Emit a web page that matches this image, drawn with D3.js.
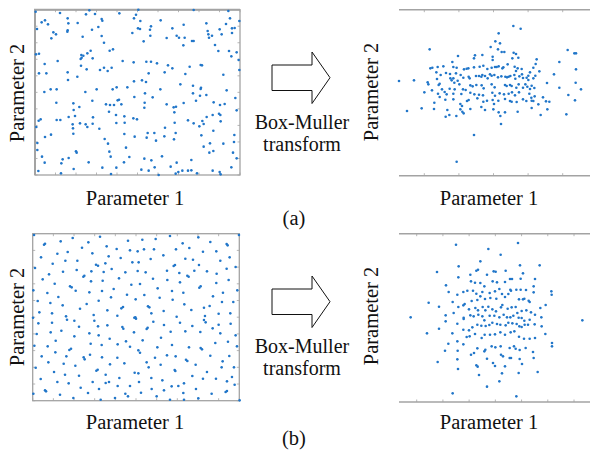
<!DOCTYPE html>
<html>
<head>
<meta charset="utf-8">
<script src="https://cdn.jsdelivr.net/npm/d3@7"></script>
<style>
  html, body { margin: 0; padding: 0; background: #fff; }
  svg { display: block; }
</style>
</head>
<body>
<svg id="fig" width="596" height="454"></svg>
<script>
// Sample sets, recorded on each panel's own grid (x: Parameter 1, y: Parameter 2, rows counted downward).
const uniformA = [[17,20],[90,24],[178,16],[195,27],[168,28],[215,42],[217,47],[268,25],[325,14],[318,29],[312,40],[491,15],[595,18],[600,40],[628,48],[35,52],[45,46],[54,58],[113,40],[115,55],[143,54],[186,74],[205,66],[113,76],[112,80],[21,72],[70,82],[78,88],[64,100],[158,95],[215,93],[222,113],[331,48],[330,72],[324,70],[363,64],[360,74],[307,84],[392,46],[427,70],[461,59],[341,109],[361,92],[410,99],[440,92],[447,98],[464,98],[486,108],[491,108],[460,121],[529,55],[533,78],[535,88],[537,98],[546,92],[569,73],[575,88],[588,57],[606,70],[606,84],[614,69],[555,120],[597,138],[604,154],[620,142],[626,165],[628,195],[565,138],
[18,148],[27,146],[44,177],[27,205],[49,205],[83,168],[154,150],[160,152],[155,158],[152,162],[172,145],[182,137],[188,160],[239,137],[249,133],[153,182],[170,193],[210,195],[222,188],[233,198],[245,188],[278,168],[311,172],[349,170],[363,170],[381,175],[414,181],[427,190],[404,202],[466,207],[479,185],[512,180],[516,181],[580,209],[113,202],[114,225],[142,215],[336,226],[348,231],[312,229],[356,205],[451,238],[489,242],[513,248],[512,252],[43,261],[62,253],[80,253],[200,253],[248,253],[260,247],[292,247],[166,261],[313,276],[345,265],[368,277],[391,253],[489,265],[510,272],[529,270],[590,256],[616,279],[498,287],[551,292],[570,300],[584,297],[620,316],
[79,293],[130,295],[148,306],[187,287],[228,298],[240,300],[252,300],[263,286],[267,284],[274,298],[131,315],[116,336],[135,333],[26,347],[32,343],[80,345],[91,345],[128,358],[150,355],[167,358],[129,370],[189,337],[172,366],[188,356],[237,320],[258,330],[283,334],[259,354],[284,353],[310,340],[321,343],[344,293],[343,308],[410,298],[431,307],[438,305],[433,322],[461,294],[474,346],[517,348],[521,357],[491,355],[434,353],[508,364],[530,336],[548,330],[567,326],[571,330],[572,349],[19,366],[208,371],[405,368],[130,386],[45,396],[63,389],[22,414],[22,435],[283,387],[314,395],[353,384],[373,384],[378,407],[350,398],[403,394],[432,403],[437,384],[514,391],[550,377],[613,390],[612,411],[580,416],[540,415],[521,425],[550,438],[538,443],[224,402],[234,416],[288,428],[238,440],[242,455],[138,439],[140,443],[36,455],[44,473],[98,463],[94,475],[116,459],[176,472],[282,472],[298,456],[343,461],[364,466],[396,454],[422,485],[374,487],[356,497],[440,473],[484,465],[548,497],[569,501],[572,508],[604,487],[25,498],[93,505],[131,492],[217,488],[259,488],[243,507],[334,494],[386,510],[437,506],[445,501],[457,497],[474,497],[484,496],[620,460],[609,443],[501,505]];

const gaussianA = [[355,63],[377,71],[311,85],[104,133],[301,109],[315,115],[287,126],[309,133],[320,141],[328,141],[189,153],[240,151],[237,160],[262,150],[293,155],[293,165],[356,143],[363,147],[370,158],[352,160],[425,163],[422,177],[518,135],[538,145],[543,145],[493,171],[172,171],[112,188],[106,190],[128,186],[145,184],[175,186],[185,188],[207,193],[215,191],[220,190],[237,187],[254,185],[265,182],[277,192],[290,188],[300,186],[305,186],[311,184],[322,190],[325,187],[338,178],[359,185],[368,190],[380,192],[363,198],[405,202],[415,188],[433,199],[543,193],[124,202],[153,204],[165,207],[183,205],[197,210],[137,210],[98,232],[100,238],[131,240],[134,236],[126,222],[57,226],[12,228],[166,220],[170,226],[175,220],[178,233],[188,227],[193,238],[205,218],[221,215],[224,220],[243,213],[252,213],[259,215],[262,210],[270,213],[278,220],[285,208],[290,212],[298,210],[309,217],[319,214],[331,215],[336,217],[341,215],[346,213],[358,210],[361,221],[373,214],[381,208],[384,219],[395,218],[400,212],[400,225],[415,220],[421,212],[456,234],[477,208],[493,248],[542,233],[558,253],[141,253],[111,256],[88,262],[149,261],[164,251],[179,253],[204,253],[212,255],[226,241],[233,244],[244,240],[260,241],[266,250],[290,238],[299,247],[330,240],[335,243],[345,240],[350,243],[364,248],[371,238],[384,248],[391,238],[397,245],[405,252],[410,242],[418,249],[129,266],[134,276],[155,268],[175,266],[199,267],[226,263],[238,268],[252,269],[264,271],[292,263],[300,272],[314,265],[327,268],[341,266],[351,262],[360,271],[372,262],[403,266],[409,278],[419,274],[444,277],[520,270],[118,293],[80,310],[36,318],[117,312],[151,284],[175,283],[196,297],[201,303],[216,288],[221,285],[247,280],[265,290],[276,287],[293,285],[297,297],[310,287],[330,282],[345,288],[350,290],[365,291],[384,283],[394,288],[410,287],[415,288],[430,298],[453,289],[463,290],[540,286],[157,315],[152,335],[163,330],[184,333],[196,313],[202,320],[206,325],[226,312],[259,306],[270,315],[295,313],[311,322],[316,333],[330,322],[318,357],[368,320],[410,309],[437,330],[457,313],[514,328],[237,390],[185,470]];

const uniformB = [[12,21],[627,21],[92,40],[128,30],[175,43],[210,26],[230,55],[260,63],[294,38],[337,35],[377,33],[420,24],[458,46],[505,28],[541,42],[590,48],[593,52],[42,50],[45,47],
[33,88],[82,77],[113,72],[156,59],[187,76],[236,85],[272,90],[300,67],[323,70],[342,64],[372,64],[400,82],[438,64],[478,60],[519,71],[559,70],[599,88],[617,117],
[68,107],[106,98],[142,98],[198,110],[204,113],[226,106],[307,103],[326,103],[362,93],[431,114],[435,111],[466,92],[489,95],[507,111],[571,98],[15,120],
[57,139],[99,131],[140,126],[160,146],[163,143],[184,130],[221,132],[245,123],[286,133],[323,129],[347,133],[411,128],[448,135],[472,143],[476,146],[493,128],[531,130],[560,137],[590,122],
[38,154],[74,167],[120,175],[125,178],[183,160],[218,158],[267,151],[304,170],[330,168],[369,152],[412,156],[450,163],[508,179],[512,175],[559,165],[596,156],
[10,187],[52,195],[85,207],[137,188],[178,193],[216,189],[251,183],[291,200],[343,201],[383,181],[426,189],[460,194],[549,205],[579,194],[622,187],
[23,219],[61,225],[98,232],[150,242],[170,228],[206,218],[243,208],[274,241],[279,237],[317,214],[354,235],[358,238],[389,209],[428,215],[463,229],[484,246],[522,239],[539,234],[576,222],[610,222],
[28,253],[66,256],[108,265],[111,275],[191,261],[193,278],[232,247],[262,263],[313,269],[316,268],[318,272],[364,256],[401,249],[440,266],[525,264],[522,276],[566,257],[601,256],[9,269],
[25,286],[66,284],[94,308],[133,278],[147,296],[204,295],[232,292],[277,297],[280,302],[312,313],[350,303],[353,299],[370,281],[402,291],[450,284],[487,294],[527,283],[566,290],[602,287],
[20,318],[62,313],[77,338],[133,325],[178,316],[206,322],[239,332],[288,340],[338,337],[393,329],[422,311],[466,310],[511,312],[548,301],[571,316],[617,322],
[13,353],[53,355],[76,373],[118,366],[123,362],[182,347],[215,351],[263,349],[300,356],[325,367],[382,358],[426,351],[477,358],[512,360],[516,364],[556,345],[594,341],[621,355],
[35,385],[109,385],[164,394],[180,380],[216,388],[262,389],[283,406],[330,374],[350,403],[375,389],[411,382],[437,385],[468,395],[472,399],[497,410],[541,383],[578,400],[598,384],
[17,419],[55,403],[101,407],[136,413],[161,388],[199,428],[203,425],[240,409],[314,434],[325,436],[356,418],[392,410],[434,426],[436,429],[531,432],[575,418],[612,418],
[32,453],[72,432],[105,440],[147,443],[188,462],[227,440],[237,462],[268,450],[300,474],[327,462],[364,450],[397,457],[425,475],[462,466],[487,444],[519,452],[558,452],[591,460],[606,447],
[45,487],[48,490],[82,462],[116,466],[152,479],[174,495],[207,483],[227,465],[263,474],[286,497],[333,494],[365,483],[402,487],[445,474],[460,495],[498,483],[545,497],[587,492],[591,489],[614,470],
[10,497],[90,500],[130,510],[212,515],[255,510],[294,505],[380,505],[420,515],[462,515],[505,511],[629,517]];

const gaussianB = [[183,50],[369,45],[280,63],[317,80],[256,100],[126,132],[191,115],[375,112],[434,112],
[249,125],[244,128],[296,130],[302,131],[332,128],[190,148],[226,140],[276,140],[384,136],
[153,172],[161,192],[228,160],[240,164],[256,165],[268,175],[293,160],[306,163],[330,162],[345,153],[351,153],[377,152],[420,153],[416,175],
[187,200],[205,192],[217,188],[234,188],[244,197],[262,192],[284,195],[300,190],[313,183],[321,198],[346,185],[348,188],[364,185],[377,185],[393,186],[469,190],[470,200],[416,193],
[101,224],[132,236],[173,222],[190,237],[205,232],[209,228],[230,219],[247,216],[256,205],[270,213],[286,210],[304,212],[330,207],[340,198],[372,214],[384,214],[388,212],[401,218],[404,222],[452,231],[436,240],
[152,262],[176,255],[206,269],[206,273],[222,244],[241,240],[249,247],[263,237],[271,247],[280,236],[292,244],[303,250],[318,238],[322,231],[338,242],[350,238],[362,237],[380,249],[394,247],[408,253],[420,260],[367,255],[355,263],
[47,268],[152,280],[187,287],[226,262],[236,265],[250,260],[262,265],[268,277],[284,263],[298,263],[313,268],[326,260],[336,268],[346,268],[371,269],[380,270],[388,278],[404,275],[439,268],[562,277],
[96,316],[132,302],[172,316],[205,305],[222,307],[232,298],[247,290],[259,293],[272,294],[283,291],[292,284],[306,288],[316,290],[332,292],[340,284],[352,286],[365,288],[373,295],[380,297],[389,290],[399,290],[419,289],[440,295],[451,318],
[160,347],[187,340],[205,349],[215,327],[224,325],[240,318],[260,330],[269,320],[285,320],[300,319],[316,313],[330,320],[347,313],[358,310],[372,326],[387,332],[404,332],[420,330],[471,345],[471,355],
[150,368],[188,368],[228,380],[237,375],[247,361],[268,370],[271,365],[290,355],[301,358],[317,355],[344,360],[357,355],[362,362],[374,366],[392,360],[414,372],
[128,402],[187,394],[244,412],[248,416],[276,392],[294,405],[300,414],[318,380],[324,385],[330,415],[344,390],[348,390],[374,393],[381,408],[416,390],[428,432],
[189,423],[252,441],[321,436],[371,435],[313,460],[276,476],[173,496],[364,505]];

// Tick values along the plot edges
const uniformTicks = d3.range(0, 1.0001, 0.1);
const gaussTicksA = [-2, -1, 0, 1, 2];
const gaussTicksB = [-3, -2, -1, 0, 1, 2, 3];

const rowLabels = ["(a)", "(b)"];
const axisLabelX = "Parameter 1";
const axisLabelY = "Parameter 2";
const arrowText = ["Box-Muller", "transform"];

const serif = "'Liberation Serif','Times New Roman',serif";
const dotColor = "#2176c9";
const frameColor = "#a3a3a3";

const svg = d3.select("#fig");
svg.append("rect").attr("width", 596).attr("height", 454).attr("fill", "#fff");

// Panel layout: grid extents of each sample set and the box they fill
const rows = [
  {
    dy: 0, label: rowLabels[0],
    left:  { pts: uniformA,  gx: [15, 630], gy: [14, 510], px: [35, 240],  py: [9.7, 175] },
    right: { pts: gaussianA, gx: [0, 585],  gy: [14, 512], px: [395, 590], py: [9.7, 175.7],
             ticks: gaussTicksA, tickRange: [424.3, 562.7], line: [399, 590] }
  },
  {
    dy: 224, label: rowLabels[1],
    left:  { pts: uniformB,  gx: [8, 628],  gy: [17, 518], px: [32.7, 239.3], py: [233.7, 400.7] },
    right: { pts: gaussianB, gx: [0, 585],  gy: [17, 522], px: [395, 590],    py: [233.7, 402],
             ticks: gaussTicksB, tickRange: [416.7, 574], line: [399, 590] }
  }
];

function drawDots(g, p) {
  const x = d3.scaleLinear().domain(p.gx).range(p.px);
  const y = d3.scaleLinear().domain(p.gy).range(p.py);
  g.selectAll("circle.pt").data(p.pts).join("circle")
    .attr("class", "pt")
    .attr("cx", d => x(d[0]))
    .attr("cy", d => y(d[1]))
    .attr("r", 1.3)
    .attr("fill", dotColor);
}

rows.forEach((row, i) => {
  const g = svg.append("g");

  // Uniform samples: boxed axes with inward ticks at every 0.1
  const L = row.left;
  const lg = g.append("g");
  const tx = d3.scaleLinear().domain([0, 1]).range(L.px);
  const ty = d3.scaleLinear().domain([0, 1]).range([L.py[1], L.py[0]]);
  lg.append("rect")
    .attr("x", L.px[0]).attr("y", L.py[0])
    .attr("width", L.px[1] - L.px[0]).attr("height", L.py[1] - L.py[0])
    .attr("fill", "#fff").attr("stroke", frameColor).attr("stroke-width", 1.3);
  uniformTicks.forEach(t => {
    lg.append("line").attr("x1", tx(t)).attr("x2", tx(t)).attr("y1", L.py[0]).attr("y2", L.py[0] + 2.5)
      .attr("stroke", frameColor).attr("stroke-width", 0.8);
    lg.append("line").attr("x1", tx(t)).attr("x2", tx(t)).attr("y1", L.py[1]).attr("y2", L.py[1] - 2.5)
      .attr("stroke", frameColor).attr("stroke-width", 0.8);
    lg.append("line").attr("y1", ty(t)).attr("y2", ty(t)).attr("x1", L.px[0]).attr("x2", L.px[0] + 2.5)
      .attr("stroke", frameColor).attr("stroke-width", 0.8);
    lg.append("line").attr("y1", ty(t)).attr("y2", ty(t)).attr("x1", L.px[1]).attr("x2", L.px[1] - 2.5)
      .attr("stroke", frameColor).attr("stroke-width", 0.8);
  });
  if (i === 0) {
    lg.append("path")
      .attr("d", `M${L.px[0]},${L.py[1]}V${L.py[0]}H${L.px[1]}`)
      .attr("fill", "none").attr("stroke", frameColor).attr("stroke-width", 2);
  }
  drawDots(lg, L);

  // Gaussian samples: horizontal rules top and bottom with ticks
  const R = row.right;
  const rg = g.append("g");
  const gx = d3.scaleLinear().domain([R.ticks[0], R.ticks[R.ticks.length - 1]]).range(R.tickRange);
  [R.py[0], R.py[1]].forEach((yy, k) => {
    rg.append("line").attr("x1", R.line[0]).attr("x2", R.line[1]).attr("y1", yy).attr("y2", yy)
      .attr("stroke", frameColor).attr("stroke-width", 1.5);
    R.ticks.forEach(t => {
      rg.append("line").attr("x1", gx(t)).attr("x2", gx(t))
        .attr("y1", yy).attr("y2", k === 0 ? yy + 2.5 : yy - 2.5)
        .attr("stroke", frameColor).attr("stroke-width", 0.8);
    });
  });
  drawDots(rg, R);

  // Axis titles
  const txt = (x, y, s, size, rot) => {
    const t = g.append("text").attr("font-family", serif).attr("font-size", size)
      .attr("fill", "#111").attr("text-anchor", "middle").text(s);
    if (rot) t.attr("transform", `translate(${x},${y}) rotate(-90)`);
    else t.attr("x", x).attr("y", y);
    return t;
  };
  txt(135, 205 + row.dy, axisLabelX, "20.5px");
  txt(489, 205 + row.dy, axisLabelX, "20.5px");
  txt(24, 93 + row.dy, axisLabelY, "20.5px", true);
  txt(378, 92 + row.dy, axisLabelY, "20.5px", true);

  // Transform arrow and caption
  const ax = 272, ay = 52 + row.dy;
  g.append("path")
    .attr("d", `M${ax},${ay + 13}H${ax + 40}V${ay}L${ax + 58},${ay + 25.7}L${ax + 40},${ay + 51.5}V${ay + 38.5}H${ax}Z`)
    .attr("fill", "#fff").attr("stroke", "#111").attr("stroke-width", 1);
  txt(302, 128.5 + row.dy, arrowText[0], "20px");
  txt(302, 151 + row.dy, arrowText[1], "20px");

  // Row caption
  txt(294, i === 0 ? 225 : 445, row.label, "20.5px");
});
</script>
</body>
</html>
